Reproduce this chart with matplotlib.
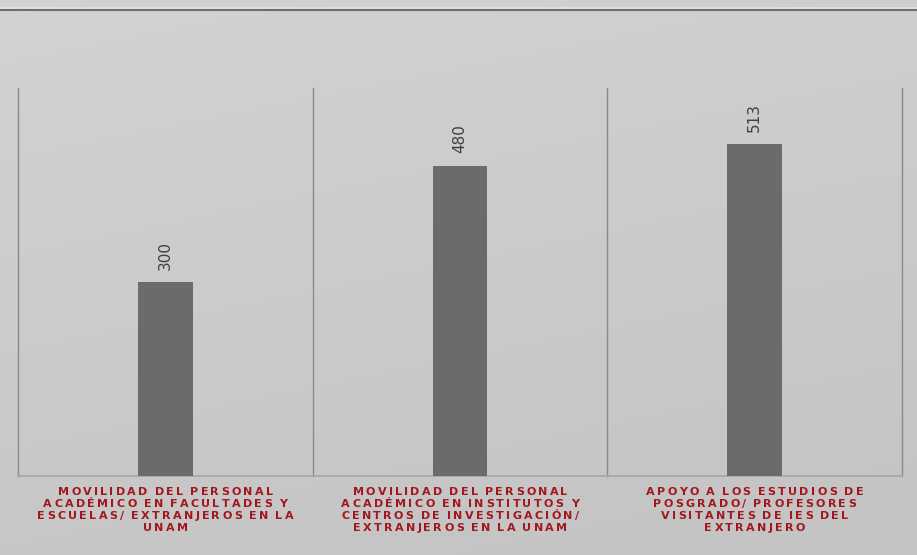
import numpy as np
import matplotlib
matplotlib.use('Agg')
import matplotlib.pyplot as plt
from matplotlib.font_manager import FontProperties
from matplotlib.lines import Line2D

categories = [
    "MOVILIDAD DEL PERSONAL\nACADÉMICO EN FACULTADES Y\nESCUELAS/ EXTRANJEROS EN LA\nUNAM",
    "MOVILIDAD DEL PERSONAL\nACADÉMICO EN INSTITUTOS Y\nCENTROS DE INVESTIGACIÓN/\nEXTRANJEROS EN LA UNAM",
    "APOYO A LOS ESTUDIOS DE\nPOSGRADO/ PROFESORES\nVISITANTES DE IES DEL\nEXTRANJERO",
]
values = [300, 480, 513]

W, H = 917, 555
bg = '#c9c9c9'
bar_color = '#6a6b6d'
label_red = '#a3161c'

fig = plt.figure(figsize=(W / 100, H / 100), dpi=100, facecolor=bg)

# soft light-to-dark wash behind everything
yy, xx = np.mgrid[0:H, 0:W]
shade = 0.825 - 0.045 * (yy / H) - 0.015 * (xx / W)
fig.figimage(np.dstack([shade] * 3), xo=0, yo=0, origin='upper', zorder=-10)

ax = fig.add_axes([18 / W, (H - 476) / H, (902 - 18) / W, (476 - 88) / H])
ax.set_facecolor('none')
ax.set_zorder(1)

x = np.arange(len(values))
ax.bar(x, values, width=0.185, color=bar_color, zorder=3)
ax.set_xlim(-0.5, len(values) - 0.5)
ax.set_ylim(0, 600)

# separators between categories and bottom baseline
for sep in np.arange(-0.5, len(values), 1.0):
    ax.axvline(sep, color='#8a8a8a', lw=1.0, zorder=1, clip_on=False)
ax.axhline(0, color='#a6a6a6', lw=1.2, zorder=1, clip_on=False)

for s in ax.spines.values():
    s.set_visible(False)
ax.set_xticks([])
ax.set_yticks([])

for xi, v in zip(x, values):
    ax.annotate(str(v), (xi, v), xytext=(0, 9), textcoords='offset points',
                rotation=90, ha='center', va='bottom', fontsize=11,
                color='#3f3f3f', family='DejaVu Sans')

# header rule across the top
fig.add_artist(Line2D([0, 1], [1 - 10 / H] * 2, transform=fig.transFigure,
                      color='#6e6e6e', lw=1.5))
fig.add_artist(Line2D([0, 1], [1 - 8 / H] * 2, transform=fig.transFigure,
                      color='#e2e2e2', lw=1.2))

# category labels with letter spacing, drawn char by char
fp = FontProperties(family='DejaVu Sans', weight='bold', size=8)
renderer = fig.canvas.get_renderer()
tracking = 2.3
space_w = 2.5
line_pitch = 12.0
first_line_y = 492


def tracked_line(text, cx, cy):
    widths = [renderer.get_text_width_height_descent(c, fp, ismath=False)[0]
              if c != ' ' else space_w for c in text]
    total = sum(widths) + tracking * (len(text) - 1)
    px = cx - total / 2
    for c, w in zip(text, widths):
        if c != ' ':
            fig.text(px / W, 1 - cy / H, c, fontproperties=fp, color=label_red,
                     ha='left', va='center')
        px += w + tracking


ax_left, ax_right = 18, 902
slot = (ax_right - ax_left) / len(categories)
for i, cat in enumerate(categories):
    cx = ax_left + slot * (i + 0.5)
    for j, line in enumerate(cat.split('\n')):
        tracked_line(line, cx, first_line_y + j * line_pitch)

fig.savefig('out.png', dpi=100, facecolor=bg)
